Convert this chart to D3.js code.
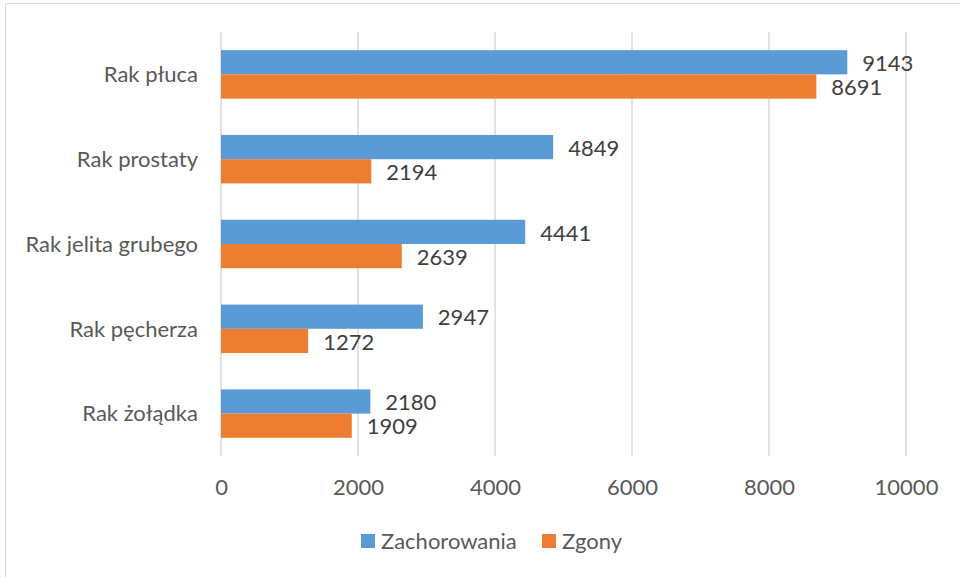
<!DOCTYPE html>
<html><head><meta charset="utf-8">
<script src="https://cdn.jsdelivr.net/npm/d3@7"></script>
<style>html,body{margin:0;padding:0;background:#fff;}</style>
</head><body>
<svg id="chart" width="960" height="577"></svg>
<script>
const categories = ["Rak płuca","Rak prostaty","Rak jelita grubego","Rak pęcherza","Rak żołądka"];
const seriesNames = ["Zachorowania","Zgony"];
const zachorowania = [9143,4849,4441,2947,2180];
const zgony = [8691,2194,2639,1272,1909];
const xTicks = [0,2000,4000,6000,8000,10000];
const colors = ["#5B9BD5","#ED7D31"];

const font = "Lato, 'Open Sans', sans-serif";
const fs = "22px";
const svg = d3.select("#chart");
const W = 960, H = 577;

// chart border
svg.append("rect").attr("x",5.5).attr("y",3.5).attr("width",W).attr("height",H)
  .attr("fill","#fff").attr("stroke","#d9d9d9").attr("stroke-width",1);

const x = d3.scaleLinear().domain([0,10000]).range([221,906]);
const y = d3.scaleBand().domain(categories).range([32,456]).paddingInner(0.4286).paddingOuter(0.2143);
const ys = d3.scaleBand().domain(seriesNames).range([0,y.bandwidth()]);

// gridlines
svg.append("g").selectAll("line").data(xTicks).join("line")
  .attr("x1",d=>x(d)).attr("x2",d=>x(d)).attr("y1",32).attr("y2",456)
  .attr("stroke","#d9d9d9").attr("stroke-width",1.5);

// x axis labels
const xAxis = d3.axisBottom(x).tickValues(xTicks).tickSize(0).tickPadding(0).tickFormat(d3.format("d"));
const gx = svg.append("g").attr("transform","translate(0,456)").call(xAxis);
gx.select(".domain").remove();
gx.selectAll("text").attr("y",31).attr("dy","0.35em").attr("fill","#595959")
  .style("font-family",font).style("font-size",fs);

// y axis labels
const yAxis = d3.axisLeft(y).tickSize(0).tickPadding(0);
const gy = svg.append("g").attr("transform","translate(198,0)").call(yAxis);
gy.select(".domain").remove();
gy.selectAll("text").attr("x",0).attr("dy","0.35em").attr("fill","#595959")
  .style("font-family",font).style("font-size",fs);

const data = categories.map((c,i)=>({cat:c, vals:[zachorowania[i], zgony[i]]}));

const groups = svg.append("g").selectAll("g").data(data).join("g")
  .attr("transform",d=>`translate(0,${y(d.cat)})`);

groups.selectAll("rect").data(d=>d.vals.map((v,j)=>({s:seriesNames[j],v,j}))).join("rect")
  .attr("x",x(0)).attr("y",d=>ys(d.s)).attr("width",d=>x(d.v)-x(0)).attr("height",ys.bandwidth())
  .attr("fill",d=>colors[d.j]);

groups.selectAll("text").data(d=>d.vals.map((v,j)=>({s:seriesNames[j],v,j}))).join("text")
  .attr("x",d=>x(d.v)+15).attr("y",d=>ys(d.s)+ys.bandwidth()/2+1).attr("dy","0.35em")
  .attr("fill","#404040").style("font-family",font).style("font-size",fs)
  .text(d=>d.v);

// legend
const legend = svg.append("g");
const lx = [361, 542];
seriesNames.forEach((s,i)=>{
  legend.append("rect").attr("x",lx[i]).attr("y",534).attr("width",14).attr("height",14).attr("fill",colors[i]);
  legend.append("text").attr("x",lx[i]+20).attr("y",541).attr("dy","0.35em")
    .attr("fill","#595959").style("font-family",font).style("font-size",fs).text(s);
});
</script>
</body></html>
